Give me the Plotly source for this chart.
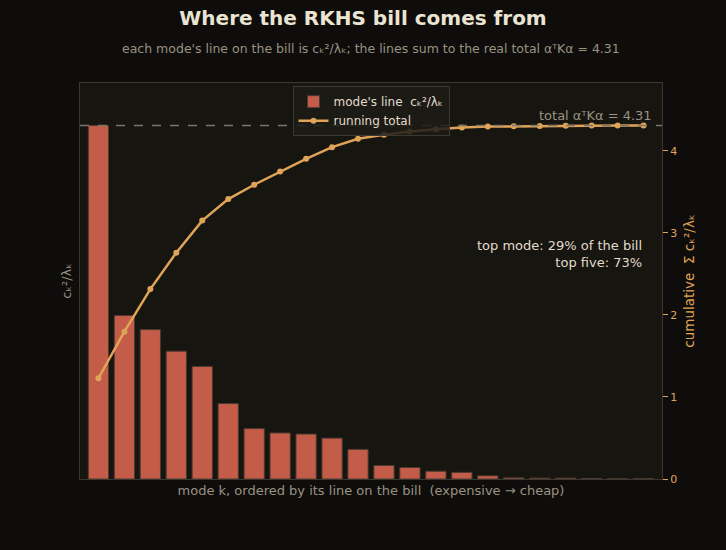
import numpy as np
import plotly.graph_objects as go

# ---- data ----
modes = list(range(1, 23))
bill_lines = [1.228, 0.568, 0.519, 0.444, 0.391, 0.262, 0.175, 0.160, 0.156, 0.142,
              0.103, 0.047, 0.040, 0.027, 0.023, 0.011, 0.004, 0.003, 0.003, 0.002,
              0.001, 0.001]
total_value = 4.31
total_label = "total αᵀKα = 4.31"
share_label = "top mode: 29% of the bill<br>top five: 73%"
right_ticks = [0, 1, 2, 3, 4]

running = np.cumsum(bill_lines)

PAPER = "#0e0d0b"
PLOT = "#161510"
BAR = "#c45c4a"
BAR_EDGE = "#4a3a2e"
ORANGE = "#e0a458"
GREY = "#9a9282"
LIGHT = "#e2dacb"
FONT = "DejaVu Sans"

fig = go.Figure()
fig.add_trace(go.Bar(
    x=modes, y=bill_lines, name="mode's line  cₖ²/λₖ",
    marker=dict(color=BAR, line=dict(color=BAR_EDGE, width=1)),
    yaxis="y",
))
fig.add_trace(go.Scatter(
    x=modes, y=running, name="running total", mode="lines+markers",
    line=dict(color=ORANGE, width=2.5), marker=dict(color=ORANGE, size=6),
    yaxis="y2",
))

fig.add_shape(type="line", xref="paper", x0=0, x1=1, yref="y2",
              y0=total_value, y1=total_value,
              line=dict(color="#7a7568", width=1.5, dash="dash"))

fig.add_annotation(xref="paper", x=0.987, yref="y2", y=total_value,
                   xanchor="right", yanchor="bottom", text=total_label,
                   showarrow=False, font=dict(family=FONT, size=13, color=GREY))
fig.add_annotation(xref="paper", x=0.969, yref="paper", y=0.569,
                   xanchor="right", yanchor="middle", align="right",
                   text=share_label, showarrow=False,
                   font=dict(family=FONT, size=13, color=LIGHT))

fig.update_layout(
    width=726, height=550,
    paper_bgcolor=PAPER, plot_bgcolor=PLOT,
    margin=dict(l=80, r=64, t=83, b=71),
    font=dict(family=FONT, color=GREY, size=12),
    title=dict(text="<b>Where the RKHS bill comes from</b>", x=0.5, xanchor="center",
               y=0.967, yanchor="middle",
               font=dict(family=FONT, size=20, color="#ece4d2")),
    bargap=0.22,
    showlegend=True,
    legend=dict(x=0.5, xanchor="center", y=0.992, yanchor="top",
                bgcolor="rgba(28,27,22,0.85)", bordercolor="#3a3830", borderwidth=1,
                tracegroupgap=0,
                font=dict(family=FONT, size=12, color=LIGHT)),
    xaxis=dict(range=[0.29, 22.71], showticklabels=False, ticks="", showgrid=False,
               zeroline=False, showline=True, linecolor="#3a3830", mirror=True,
               title=dict(text="mode k, ordered by its line on the bill  (expensive → cheap)",
                          standoff=6, font=dict(family=FONT, size=13, color=GREY))),
    yaxis=dict(range=[0, 1.12 * max(bill_lines)], showticklabels=False, ticks="",
               showgrid=False, zeroline=False, showline=True, linecolor="#3a3830",
               mirror=True,
               title=dict(text="cₖ²/λₖ", standoff=4,
                          font=dict(family=FONT, size=13, color=GREY))),
    yaxis2=dict(overlaying="y", side="right", range=[0, 1.12 * total_value],
                tickvals=right_ticks, ticks="outside", ticklen=5, tickcolor=ORANGE,
                tickfont=dict(family=FONT, size=11, color=ORANGE),
                showgrid=False, zeroline=False, showline=False,
                title=dict(text="cumulative  Σ cₖ²/λₖ", standoff=8,
                           font=dict(family=FONT, size=13.5, color=ORANGE))),
)

fig.add_annotation(xref="paper", yref="paper", x=0.5, y=1.0, yshift=35,
                   xanchor="center", yanchor="middle", showarrow=False,
                   text="each mode's line on the bill is cₖ²/λₖ; the lines sum to the real total αᵀKα = 4.31",
                   font=dict(family=FONT, size=12.5, color=GREY))

fig.write_html("out.html")
